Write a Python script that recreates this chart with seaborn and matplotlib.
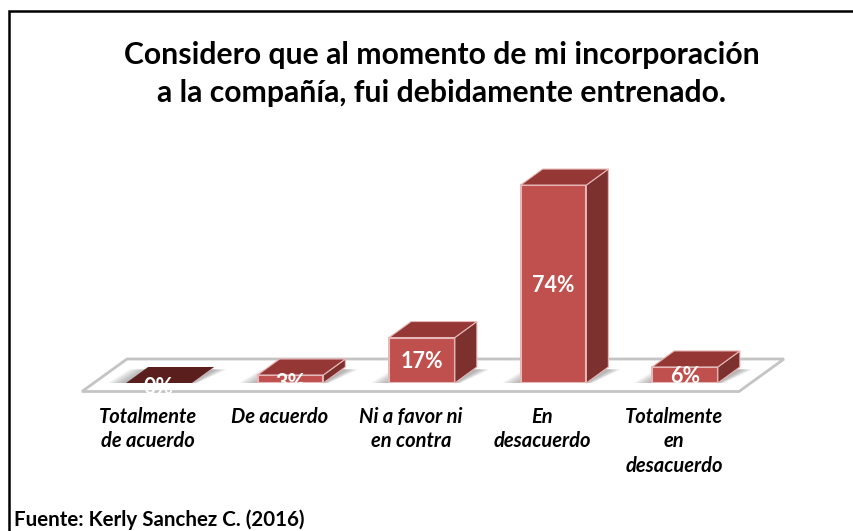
import numpy as np
import pandas as pd
import matplotlib.pyplot as plt
import matplotlib.patches as mpatches
import seaborn as sns

# datos del grafico
categorias = ['Totalmente\nde acuerdo', 'De acuerdo', 'Ni a favor ni\nen contra', 'En\ndesacuerdo', 'Totalmente\nen\ndesacuerdo']
porcentajes = [0, 3, 17, 74, 6]
titulo = 'Considero que al momento de mi incorporación\na la compañía, fui debidamente entrenado.'
fuente = 'Fuente: Kerly Sanchez C. (2016)'

W, H = 854, 531
sns.set_theme(style='white')
plt.rcParams['font.family'] = ['Lato', 'DejaVu Sans']

df = pd.DataFrame({'categoria': categorias, 'valor': porcentajes})

fig = plt.figure(figsize=(W / 100, H / 100), dpi=100)
# capa en pixeles para marco, piso y textos
bg = fig.add_axes([0, 0, 1, 1])
bg.set_xlim(0, W)
bg.set_ylim(H, 0)
bg.axis('off')

bg.plot([W, 9.5, 9.5], [10.5, 10.5, H], color='black', lw=1.8, solid_joinstyle='miter')
bg.add_patch(mpatches.Polygon([(82, 391.5), (739, 391.5), (784, 359), (127, 359)],
                              closed=True, fc='white', ec='#c4c4c4', lw=2))

ax_left, ax_right = 93.25, 750.75
ax_bottom, ax_top = 383, 169
ax = fig.add_axes([ax_left / W, 1 - ax_bottom / H, (ax_right - ax_left) / W, (ax_bottom - ax_top) / H])
ax.patch.set_alpha(0)

sns.barplot(data=df, x='categoria', y='valor', color='#c0504d', saturation=1, width=0.5,
            edgecolor='#e6b8b7', linewidth=1.5, ax=ax)
ax.set_xlim(-0.5, 4.5)
ax.set_ylim(0, 80)
ax.axis('off')

# profundidad del efecto 3D, en unidades de datos
dx = 22 / 131.5
dy = 16 / (214 / 80)

barras = list(ax.patches)
for barra, v, cat in zip(barras, porcentajes, categorias):
    x0, w, h = barra.get_x(), barra.get_width(), barra.get_height()
    x1 = x0 + w
    # sombra sobre el piso, varias capas para difuminar
    for k in range(10):
        e = 0.14 - k * 0.014
        ax.add_patch(mpatches.Polygon([(x0 - e, 0), (x1 + e * 0.3, 0), (x1 + dx + e * 0.7, dy * 0.85), (x0 + dx - e, dy * 0.85)],
                                      closed=True, fc='#808080', ec='none', alpha=0.08, zorder=1))
    barra.set_zorder(3)
    if h == 0:
        barra.set_edgecolor('none')
    superior = '#953735' if h > 0 else '#5a1f1d'
    ax.add_patch(mpatches.Polygon([(x1, 0), (x1 + dx, dy), (x1 + dx, h + dy), (x1, h)],
                                  closed=True, fc='#7d312f', ec='#e6b8b7', lw=0.8, zorder=3, clip_on=False))
    ax.add_patch(mpatches.Polygon([(x0, h), (x1, h), (x1 + dx, h + dy), (x0 + dx, h + dy)],
                                  closed=True, fc=superior, ec='#e6b8b7' if h > 0 else 'none', lw=0.8, zorder=3, clip_on=False))
    # etiqueta de porcentaje, las barras bajas la llevan un poco mas abajo
    ax.annotate(f'{v}%', (x0 + w / 2, h / 2), xytext=(0, -3 if h < 5 else -1), textcoords='offset points',
                ha='center', va='center', color='white', fontsize=15.5, fontweight='bold',
                zorder=5, annotation_clip=False)
    # etiqueta de categoria, corrida a la izquierda como en el original
    ax.annotate(cat, (x0 + w / 2, 0), xytext=(-8, -17), textcoords='offset points',
                ha='center', va='top', fontsize=14.5, fontstyle='italic', fontweight='bold',
                color='black', linespacing=1.3, annotation_clip=False)

bg.text(442, 74, titulo, ha='center', va='center', fontsize=21.7, fontweight='bold', color='black', linespacing=1.44)
bg.text(14, 520, fuente, ha='left', va='center', fontsize=14.8, fontweight='bold', color='black')

fig.savefig('out.png', dpi=100)
